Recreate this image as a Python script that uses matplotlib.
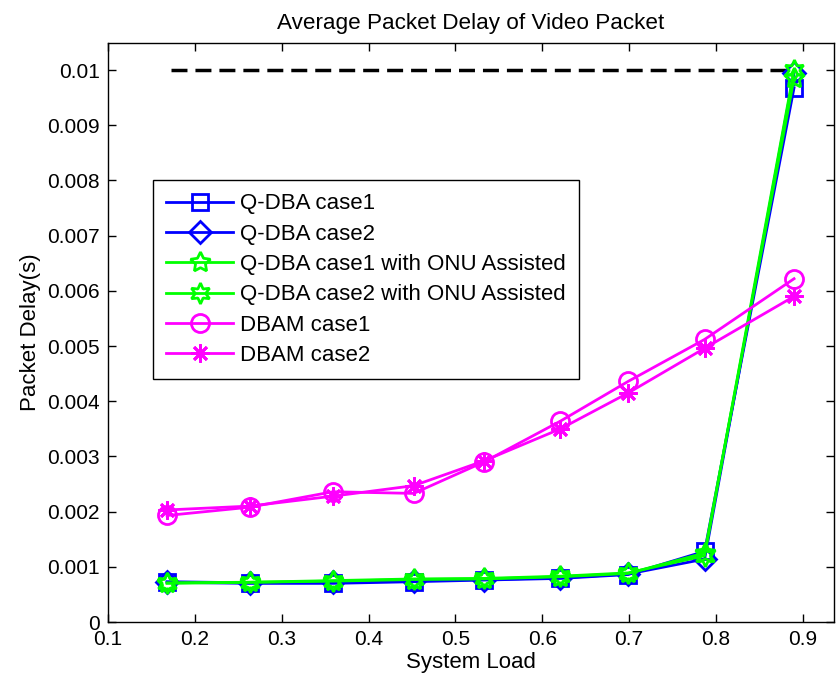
"""
Average packet delay of video packets vs. system load for Q-DBA and DBAM schemes.
"""
import matplotlib
matplotlib.use("Agg")
import matplotlib.pyplot as plt
from matplotlib.ticker import FormatStrFormatter, FuncFormatter

# ── Data ─────────────────────────────────────────────────────────────────────
system_load = [0.168, 0.263, 0.359, 0.452, 0.533, 0.621, 0.699, 0.787, 0.890]

qdba_case1 = [0.00072, 0.00070, 0.00070, 0.00073, 0.00076, 0.00079, 0.00086, 0.00128, 0.00968]
qdba_case2 = [0.00073, 0.00071, 0.00072, 0.00075, 0.00077, 0.00080, 0.00087, 0.00114, 0.00995]
qdba_onu_case1 = [0.00070, 0.00072, 0.00074, 0.00077, 0.00078, 0.00082, 0.00088, 0.00125, 0.00985]
qdba_onu_case2 = [0.00071, 0.00072, 0.00075, 0.00078, 0.00079, 0.00083, 0.00089, 0.00120, 0.01000]
dbam_case1 = [0.00193, 0.00208, 0.00236, 0.00233, 0.00290, 0.00364, 0.00436, 0.00512, 0.00622]
dbam_case2 = [0.00203, 0.00210, 0.00228, 0.00247, 0.00292, 0.00350, 0.00415, 0.00496, 0.00590]

delay_bound_load = [0.173, 0.890]
delay_bound = [0.01, 0.01]

x_ticks = [0.1, 0.2, 0.3, 0.4, 0.5, 0.6, 0.7, 0.8, 0.9]
y_ticks = [0, 0.001, 0.002, 0.003, 0.004, 0.005, 0.006, 0.007, 0.008, 0.009, 0.01]

# ── Figure ───────────────────────────────────────────────────────────────────
plt.rcParams["font.family"] = ["Liberation Sans", "DejaVu Sans"]

fig = plt.figure(figsize=(8.36, 6.88), dpi=100)
ax = fig.add_axes([108 / 836, 1 - 622 / 688, (834 - 108) / 836, (622 - 42.5) / 688])

ms = 12
lw = 2
ax.plot(delay_bound_load, delay_bound, color="black", linewidth=2.5,
        linestyle=(0, (4.6, 2.3)))
ax.plot(system_load, qdba_case1, color="#0000ff", linewidth=lw, marker="s",
        markersize=ms, markerfacecolor="none", markeredgewidth=lw, label="Q-DBA case1")
ax.plot(system_load, qdba_case2, color="#0000ff", linewidth=lw, marker="D",
        markersize=ms - 1, markerfacecolor="none", markeredgewidth=lw, label="Q-DBA case2")
ax.plot(system_load, qdba_onu_case1, color="#00ff00", linewidth=lw, marker=(5, 1, 0),
        markersize=ms + 3, markerfacecolor="none", markeredgewidth=lw,
        label="Q-DBA case1 with ONU Assisted")
ax.plot(system_load, qdba_onu_case2, color="#00ff00", linewidth=lw, marker=(6, 1, 0),
        markersize=ms + 3, markerfacecolor="none", markeredgewidth=lw,
        label="Q-DBA case2 with ONU Assisted")
ax.plot(system_load, dbam_case1, color="#ff00ff", linewidth=lw, marker="o",
        markersize=ms + 1, markerfacecolor="none", markeredgewidth=lw, label="DBAM case1")
ax.plot(system_load, dbam_case2, color="#ff00ff", linewidth=lw, marker=(8, 2, 0),
        markersize=ms + 1, markerfacecolor="none", markeredgewidth=lw, label="DBAM case2")

ax.set_xlim(0.1, 0.936)
ax.set_ylim(0, 0.0105)
ax.set_xticks(x_ticks)
ax.set_yticks(y_ticks)
ax.xaxis.set_major_formatter(FormatStrFormatter("%g"))
ax.yaxis.set_major_formatter(FuncFormatter(lambda v, _: f"{v:g}"))
ax.tick_params(direction="in", length=6, width=1, labelsize=15, top=True, right=True,
               pad=6)
for spine in ax.spines.values():
    spine.set_linewidth(1)

ax.set_title("Average Packet Delay of Video Packet", fontsize=16.2, pad=10)
ax.set_xlabel("System Load", fontsize=16, labelpad=2)
ax.set_ylabel("Packet Delay(s)", fontsize=16, labelpad=4)

leg = ax.legend(loc="upper left", bbox_to_anchor=(153 / 836, 1 - 180 / 688),
                bbox_transform=fig.transFigure, fontsize=16, frameon=True,
                fancybox=False, framealpha=1, edgecolor="black", handlelength=3,
                handletextpad=0.3, labelspacing=0.42, borderpad=0.6,
                borderaxespad=0)
leg.get_frame().set_linewidth(1)

fig.savefig("out.png", dpi=100)
plt.close(fig)
